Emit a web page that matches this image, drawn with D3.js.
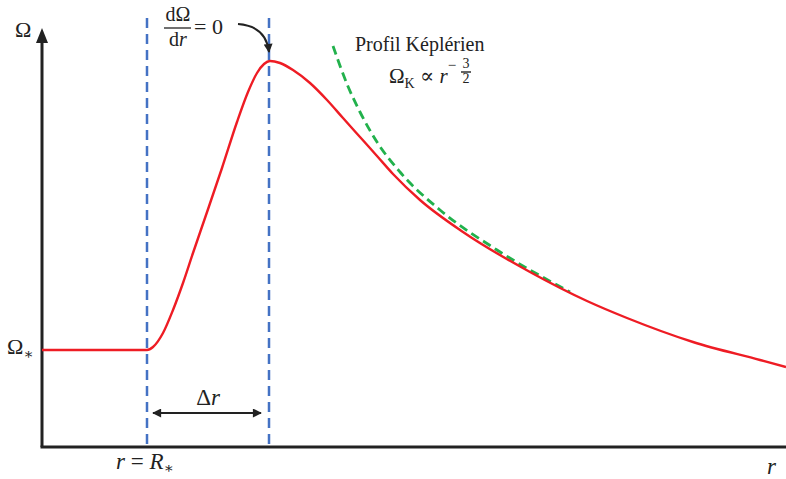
<!DOCTYPE html>
<html>
<head>
<meta charset="utf-8">
<script src="https://cdn.jsdelivr.net/npm/d3@7"></script>
<style>
body { margin: 0; background: #fff; }
text { font-family: "Liberation Serif", "DejaVu Serif", serif; fill: #222; }
</style>
</head>
<body>
<svg id="vis" width="786" height="479"></svg>
<script>
// rotation profile (r, Omega in arbitrary units)
var profileR     = [0, 1.05, 1.11, 1.21, 1.31, 1.41, 1.51, 1.63, 1.80, 1.95, 2.06, 2.15, 2.22, 2.28, 2.38, 2.51, 2.68, 2.85, 3.01, 3.18, 3.35, 3.51, 3.78, 4.21, 4.88, 5.45, 5.85, 6.51, 7.18, 7.44];
var profileOmega = [0.97, 0.97, 1.00, 1.14, 1.37, 1.64, 1.94, 2.29, 2.79, 3.25, 3.55, 3.74, 3.83, 3.86, 3.84, 3.77, 3.64, 3.47, 3.29, 3.10, 2.91, 2.73, 2.47, 2.15, 1.75, 1.46, 1.29, 1.05, 0.87, 0.80];

// keplerian profile (dashed green)
var keplerR     = [2.91, 3.05, 3.18, 3.35, 3.58, 3.98, 4.55, 5.28];
var keplerOmega = [4.01, 3.63, 3.35, 3.05, 2.75, 2.37, 1.97, 1.55];

// vertical markers: r = R* and peak
var markers = [1.05, 2.27];

var vis = d3.select('#vis');
var x = d3.scaleLinear().domain([0, 7.44]).range([42, 786]);
var y = d3.scaleLinear().domain([0, 4.17]).range([447, 30]);

var defs = vis.append('defs');
defs.append('marker').attr('id', 'head')
    .attr('viewBox', '0 0 10 10').attr('refX', 9).attr('refY', 5)
    .attr('markerUnits', 'userSpaceOnUse')
    .attr('markerWidth', 10).attr('markerHeight', 9).attr('orient', 'auto-start-reverse')
    .append('path').attr('d', 'M0,0 L10,5 L0,10 Z').attr('fill', '#222');

// axes
vis.append('line')
    .attr('x1', x(0) - 1.5).attr('y1', y(0)).attr('x2', x(7.44)).attr('y2', y(0))
    .attr('stroke', '#222').attr('stroke-width', 3);
vis.append('line')
    .attr('x1', x(0)).attr('y1', y(0)).attr('x2', x(0)).attr('y2', 40)
    .attr('stroke', '#222').attr('stroke-width', 3);
vis.append('path')
    .attr('d', 'M' + (x(0) - 6) + ',43 L' + x(0) + ',28 L' + (x(0) + 6) + ',43 Z')
    .attr('fill', '#222');

// dashed markers
vis.selectAll('line.marker').data(markers).enter().append('line')
    .attr('class', 'marker')
    .attr('x1', function(d) { return x(d); }).attr('x2', function(d) { return x(d); })
    .attr('y1', 18).attr('y2', y(0))
    .attr('stroke', '#4472c4').attr('stroke-width', 2.5).attr('stroke-dasharray', '10,6');

var line = d3.line()
    .x(function(d) { return x(d[0]); })
    .y(function(d) { return y(d[1]); })
    .curve(d3.curveMonotoneX);

vis.append('path')
    .datum(keplerR.map(function(r, i) { return [r, keplerOmega[i]]; }))
    .attr('d', line)
    .attr('fill', 'none').attr('stroke', '#22b14c').attr('stroke-width', 2.8)
    .attr('stroke-dasharray', '9,5');

vis.append('path')
    .datum(profileR.map(function(r, i) { return [r, profileOmega[i]]; }))
    .attr('d', line)
    .attr('fill', 'none').attr('stroke', '#ee1c24').attr('stroke-width', 2.4);

// delta r arrow
vis.append('line')
    .attr('x1', x(markers[0]) + 6).attr('x2', x(markers[1]) - 8)
    .attr('y1', 413).attr('y2', 413)
    .attr('stroke', '#222').attr('stroke-width', 2)
    .attr('marker-start', 'url(#head)').attr('marker-end', 'url(#head)');
var dr = vis.append('text').attr('x', (x(markers[0]) + x(markers[1])) / 2).attr('y', 405)
    .attr('text-anchor', 'middle').style('font-size', '23px');
dr.append('tspan').text('Δ');
dr.append('tspan').style('font-style', 'italic').text('r');

// curved arrow to the peak
vis.append('path')
    .attr('d', 'M238,24 Q266,26 269,52')
    .attr('fill', 'none').attr('stroke', '#222').attr('stroke-width', 2)
    .attr('marker-end', 'url(#head)');

// labels
vis.append('text').attr('x', 15).attr('y', 37).style('font-size', '22px').text('Ω');

var os = vis.append('text').attr('x', 7).attr('y', 354).style('font-size', '22px');
os.append('tspan').text('Ω');
os.append('tspan').attr('dy', 5).style('font-size', '15px').text('∗');

var rr = vis.append('text').attr('x', 116).attr('y', 469).style('font-size', '23px');
rr.append('tspan').style('font-style', 'italic').text('r');
rr.append('tspan').text(' = ');
rr.append('tspan').style('font-style', 'italic').text('R');
rr.append('tspan').attr('dy', 4).style('font-size', '15px').text('∗');

vis.append('text').attr('x', 767).attr('y', 474).style('font-size', '23px')
    .style('font-style', 'italic').text('r');

// dOmega/dr = 0
vis.append('text').attr('x', 178).attr('y', 21).attr('text-anchor', 'middle')
    .style('font-size', '20px').text('dΩ');
vis.append('line').attr('x1', 164).attr('x2', 191).attr('y1', 28).attr('y2', 28)
    .attr('stroke', '#222').attr('stroke-width', 1.3);
var den = vis.append('text').attr('x', 178).attr('y', 46).attr('text-anchor', 'middle')
    .style('font-size', '20px');
den.append('tspan').text('d');
den.append('tspan').style('font-style', 'italic').text('r');
vis.append('text').attr('x', 194).attr('y', 34).style('font-size', '22px').text('= 0');

// keplerian label
vis.append('text').attr('x', 355).attr('y', 51).style('font-size', '20px').text('Profil Képlérien');
var k = vis.append('text').attr('x', 389).attr('y', 83).style('font-size', '21px');
k.append('tspan').text('Ω');
k.append('tspan').attr('dy', 5).style('font-size', '14px').text('K');
k.append('tspan').attr('dy', -5).text(' ∝ ');
k.append('tspan').style('font-style', 'italic').text('r');
k.append('tspan').attr('dy', -13).style('font-size', '15px').text('−');
vis.append('text').attr('x', 466).attr('y', 68).attr('text-anchor', 'middle').style('font-size', '14px').text('3');
vis.append('line').attr('x1', 461).attr('x2', 471).attr('y1', 72).attr('y2', 72)
    .attr('stroke', '#222').attr('stroke-width', 1.4);
vis.append('text').attr('x', 466).attr('y', 83).attr('text-anchor', 'middle').style('font-size', '14px').text('2');
</script>
</body>
</html>
